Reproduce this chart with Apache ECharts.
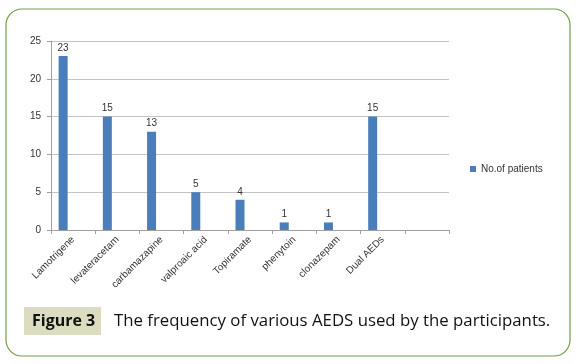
<!DOCTYPE html>
<html>
<head>
<meta charset="utf-8">
<script src="https://cdn.jsdelivr.net/npm/echarts@6/dist/echarts.min.js"></script>
<style>
html,body{margin:0;padding:0;background:#fff;}
#chart{width:581px;height:364px;}
</style>
</head>
<body>
<div id="chart"></div>
<script>
var categories = ['Lamotrigene','levateracetam','carbamazapine','valproaic acid','Topiramate','phenytoin','clonazepam','Dual AEDs'];
var patients = [23, 15, 13, 5, 4, 1, 1, 15];
var yTicks = [0, 5, 10, 15, 20, 25];
var seriesName = 'No.of patients';
var captionLabel = 'Figure 3';
var captionText = 'The frequency of various AEDS used by the participants.';

var chart = echarts.init(document.getElementById('chart'), null, {renderer:'canvas'});
var cats = categories.concat(['']);
var vals = patients.concat([null]);
var emptySlot = cats.map(function(){ return null; });

chart.setOption({
  animation: false,
  backgroundColor: '#fff',
  textStyle: {fontFamily: 'Open Sans, Liberation Sans, sans-serif'},
  grid: {left: 51, right: 132, top: 41, bottom: 134, containLabel: false},
  legend: {
    show: true,
    data: [seriesName],
    left: 465, top: 159,
    itemWidth: 6, itemHeight: 6, itemGap: 4,
    icon: 'rect',
    textStyle: {fontSize: 10, color: '#333', fontFamily: 'Liberation Sans, sans-serif'}
  },
  xAxis: {
    type: 'category',
    data: cats,
    boundaryGap: true,
    axisLine: {show: true, lineStyle: {color: '#a0a0a0', width: 1}},
    axisTick: {show: true, alignWithLabel: false, length: 4, lineStyle: {color: '#a0a0a0'}},
    axisLabel: {rotate: 45, fontSize: 10, color: '#333', margin: 8, interval: 0, fontFamily: 'Liberation Sans, sans-serif'},
    splitLine: {show: false}
  },
  yAxis: {
    type: 'value',
    min: yTicks[0], max: yTicks[yTicks.length-1], interval: 5,
    axisLine: {show: true, lineStyle: {color: '#a0a0a0', width: 1}},
    axisTick: {show: true, length: 4, lineStyle: {color: '#a0a0a0'}},
    axisLabel: {fontSize: 10, color: '#333', margin: 10, fontFamily: 'Liberation Sans, sans-serif'},
    splitLine: {show: true, lineStyle: {color: '#c4c4c4', width: 1}}
  },
  series: [{
    name: seriesName,
    type: 'bar',
    data: vals,
    barWidth: 9,
    barGap: '122%',
    itemStyle: {color: '#4a7ebb'},
    label: {show: true, position: 'top', fontSize: 10, color: '#333', distance: 3, fontFamily: 'Liberation Sans, sans-serif'}
  }, {
    name: 'placeholder',
    type: 'bar',
    data: emptySlot,
    barWidth: 9,
    silent: true,
    itemStyle: {color: 'transparent'}
  }],
  graphic: [
    {type: 'rect', shape: {x: 6, y: 9, width: 564, height: 347, r: 16}, style: {fill: 'none', stroke: '#6fa142', lineWidth: 1.2}, z: 100},
    {type: 'rect', shape: {x: 24, y: 307, width: 77, height: 28}, style: {fill: '#dcdcc0'}, z: 100},
    {type: 'text', x: 32, y: 321, style: {text: captionLabel, font: 'bold 16px "Open Sans", sans-serif', fill: '#111', textVerticalAlign: 'middle'}, z: 101},
    {type: 'text', x: 114, y: 321, style: {text: captionText, font: '16.8px "Open Sans", sans-serif', fill: '#111', textVerticalAlign: 'middle'}, z: 101}
  ]
});
</script>
</body>
</html>
